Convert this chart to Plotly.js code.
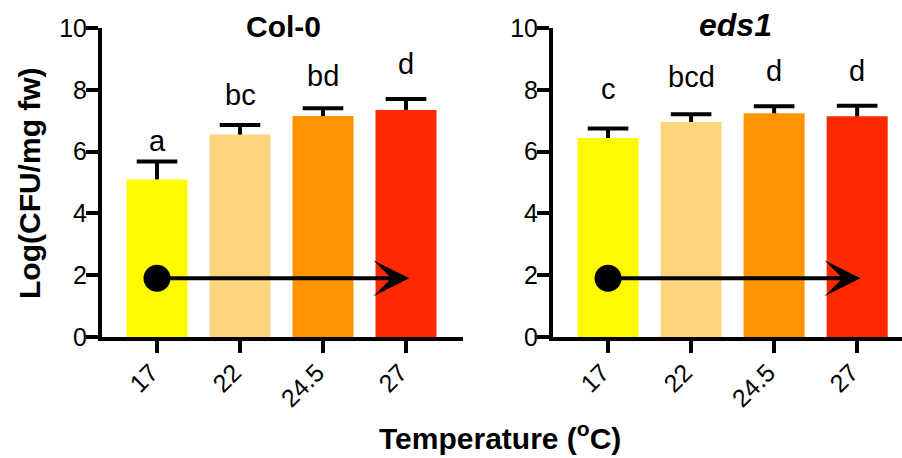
<!DOCTYPE html>
<html><head><meta charset="utf-8">
<script src="https://cdn.plot.ly/plotly-3.0.1.min.js"></script>
<style>html,body{margin:0;padding:0;background:#fff;}#c{width:902px;height:458px;}</style>
</head><body><div id="c"></div>
<script>
const categories = ['17', '22', '24.5', '27'];
const barColors = ['#FFFA00', '#FDD57E', '#FF9300', '#FF2900'];
const col0Mean = [5.1, 6.55, 7.15, 7.35];
const col0Err  = [0.58, 0.31, 0.25, 0.35];
const col0Letters = ['a', 'bc', 'bd', 'd'];
const col0LetterY = [6.0, 7.48, 8.08, 8.48];
const eds1Mean = [6.44, 6.96, 7.24, 7.14];
const eds1Err  = [0.31, 0.25, 0.23, 0.34];
const eds1Letters = ['c', 'bcd', 'd', 'd'];
const eds1LetterY = [7.67, 8.05, 8.24, 8.24];
const arrowY = 1.9;
const arrowFrom = '17', arrowTo = '27';

const FONT = 'Liberation Sans, Arial, Helvetica, sans-serif';

function bars(mean, err, xa, ya) {
  return {
    type: 'bar', x: categories, y: mean, xaxis: xa, yaxis: ya,
    marker: {color: barColors, line: {width: 0}},
    error_y: {type: 'data', symmetric: false, array: err, arrayminus: err.map(() => 0),
              color: '#000', thickness: 4, width: 0},
    hoverinfo: 'skip', showlegend: false
  };
}
function caps(mean, err, xa, ya) {
  return {type: 'scatter', mode: 'markers', x: categories, y: mean.map((m, i) => m + err[i]),
    xaxis: xa, yaxis: ya, marker: {symbol: 'line-ew', size: 29, line: {width: 4, color: '#000'}},
    showlegend: false, hoverinfo: 'skip'};
}
function dot(xa, ya) {
  return {type: 'scatter', mode: 'markers', x: [arrowFrom], y: [arrowY], xaxis: xa, yaxis: ya,
          marker: {color: '#000', size: 27}, showlegend: false, hoverinfo: 'skip'};
}
const data = [bars(col0Mean, col0Err, 'x', 'y'), bars(eds1Mean, eds1Err, 'x2', 'y2'),
              caps(col0Mean, col0Err, 'x', 'y'), caps(eds1Mean, eds1Err, 'x2', 'y2'),
              dot('x', 'y'), dot('x2', 'y2')];

const xBase = {type: 'category', showgrid: false, zeroline: false, showline: true, linecolor: '#000',
  linewidth: 4, ticks: 'outside', ticklen: 12, tickwidth: 4, tickcolor: '#000', tickangle: -45,
  ticklabelstandoff: -5, ticklabelshift: -6,
  tickfont: {family: FONT, size: 25, color: '#000'}, fixedrange: true};
const yBase = {range: [0, 10], dtick: 2, showgrid: false, zeroline: false, showline: true,
  linecolor: '#000', linewidth: 4, ticks: 'outside', ticklen: 12, tickwidth: 4, tickcolor: '#000',
  ticklabelstandoff: -6,
  tickfont: {family: FONT, size: 25, color: '#000'}, fixedrange: true};

const annotations = [];
function letters(labels, ys, xr, yr) {
  labels.forEach((t, i) => annotations.push({xref: xr, yref: yr, x: i, y: ys[i], text: t,
    showarrow: false, xanchor: 'center', yanchor: 'bottom', yshift: -7,
    font: {family: FONT, size: 29, color: '#000'}}));
}
letters(col0Letters, col0LetterY, 'x', 'y');
letters(eds1Letters, eds1LetterY, 'x2', 'y2');
function arrow(xr, yr) {
  annotations.push({xref: xr, yref: yr, axref: xr, ayref: yr,
    x: categories.indexOf(arrowTo) + 0.04, y: arrowY, ax: categories.indexOf(arrowFrom), ay: arrowY,
    showarrow: true, arrowhead: 3, arrowsize: 1.5, arrowwidth: 4, arrowcolor: '#000', text: ' '});
}
arrow('x', 'y'); arrow('x2', 'y2');
function paperText(text, cx, cy, size, angle) {
  annotations.push({xref: 'paper', yref: 'paper', x: cx / 902, y: 1 - cy / 458, text: text,
    xanchor: 'center', yanchor: 'middle', textangle: angle || 0, showarrow: false,
    font: {family: FONT, size: size, color: '#000'}});
}
paperText('<b>Col-0</b>', 283, 26, 30);
paperText('<b><i>eds1</i></b>', 735, 25, 32);
paperText('<b>Log(CFU/mg fw)</b>', 29, 183, 30, -90);
paperText('<b>Temperature (<sup>o</sup>C)</b>', 500, 436, 30);

const layout = {
  width: 902, height: 458, margin: {l: 0, r: 0, t: 0, b: 0}, autosize: false,
  paper_bgcolor: '#fff', plot_bgcolor: 'rgba(0,0,0,0)', bargap: 0.265,
  xaxis: Object.assign({}, xBase, {domain: [102/902, 463/902], range: [-0.663, 3.687], anchor: 'y'}),
  yaxis: Object.assign({}, yBase, {domain: [(458-337)/458, (458-28)/458], anchor: 'x'}),
  xaxis2: Object.assign({}, xBase, {domain: [553/902, 1], range: [-0.663, 3.54], anchor: 'y2'}),
  yaxis2: Object.assign({}, yBase, {domain: [(458-337)/458, (458-28)/458], anchor: 'x2'}),
  annotations: annotations
};
Plotly.newPlot('c', data, layout, {displayModeBar: false, staticPlot: true});
</script></body></html>
